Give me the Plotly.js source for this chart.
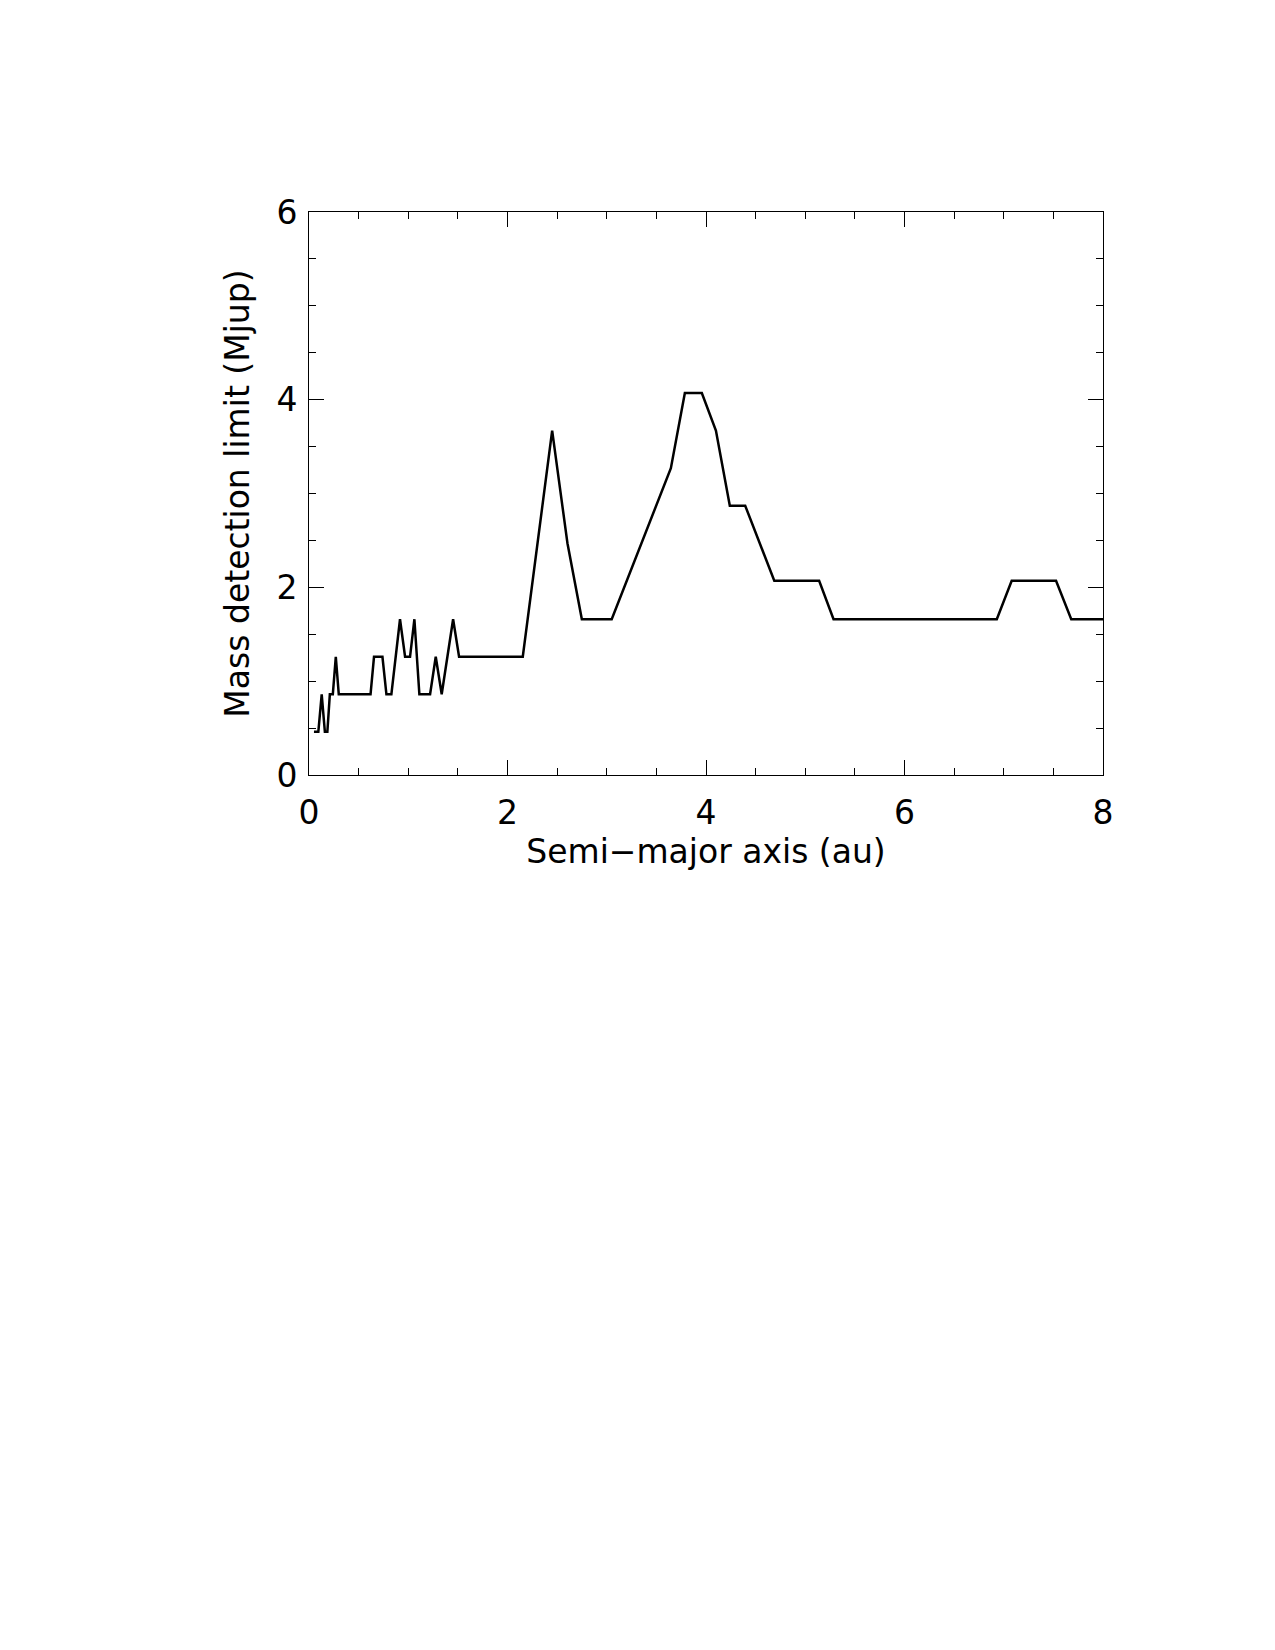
<!DOCTYPE html>
<html><head><meta charset="utf-8">
<script src="https://cdn.plot.ly/plotly-3.0.1.min.js"></script>
<style>html,body{margin:0;padding:0;background:#fff;}</style>
</head><body>
<div id="chart" style="width:1275px;height:1650px;"></div>
<script>
const semiMajorAxis = [0.05,0.094,0.128,0.16,0.185,0.21,0.24,0.27,0.30,0.62,0.655,0.74,0.78,0.83,0.917,0.968,1.018,1.062,1.112,1.22,1.277,1.337,1.452,1.512,2.154,2.45,2.604,2.749,3.05,3.646,3.787,3.958,4.10,4.24,4.395,4.688,5.14,5.285,6.93,7.08,7.527,7.68,8.0];
const massLimit    = [0.46,0.46,0.86,0.46,0.46,0.86,0.86,1.26,0.86,0.86,1.26,1.26,0.86,0.86,1.66,1.26,1.26,1.66,0.86,0.86,1.26,0.86,1.66,1.26,1.26,3.67,2.47,1.66,1.66,3.27,4.07,4.07,3.67,2.87,2.87,2.07,2.07,1.66,1.66,2.07,2.07,1.66,1.66];
const xTickVals = [0,2,4,6,8];
const yTickVals = [0,2,4,6];
const xTitle = "Semi\u2212major axis (au)";
const yTitle = "Mass detection limit (Mjup)";

const fontFam = "DejaVu Sans";
const axisCommon = {
  showgrid:false, zeroline:false, showline:true, linecolor:'#000', linewidth:1,
  ticks:'inside', ticklen:15, tickwidth:1, tickcolor:'#000', mirror:'ticks',
  tickfont:{family:fontFam, size:33, color:'#000'},
  minor:{dtick:0.5, ticks:'inside', ticklen:7, tickwidth:1, tickcolor:'#000'}
};
const layout = {
  width:1275, height:1650, paper_bgcolor:'#fff', plot_bgcolor:'#fff',
  margin:{l:309, r:172, t:212, b:875},
  showlegend:false,
  xaxis:Object.assign({}, axisCommon, {range:[0,8], tickvals:xTickVals, ticktext:xTickVals.map(String),
    ticklabelstandoff:8,
    title:{text:xTitle, font:{family:fontFam, size:33, color:'#000'}, standoff:8}}),
  yaxis:Object.assign({}, axisCommon, {range:[0,6], tickvals:yTickVals, ticktext:yTickVals.map(String),
    ticklabelstandoff:4,
    title:{text:yTitle, font:{family:fontFam, size:33, color:'#000'}, standoff:16}})
};
Plotly.newPlot('chart', [{
  x:semiMajorAxis, y:massLimit, type:'scatter', mode:'lines',
  line:{color:'#000', width:2.5}, hoverinfo:'skip'
}], layout, {staticPlot:true});
</script>
</body></html>
